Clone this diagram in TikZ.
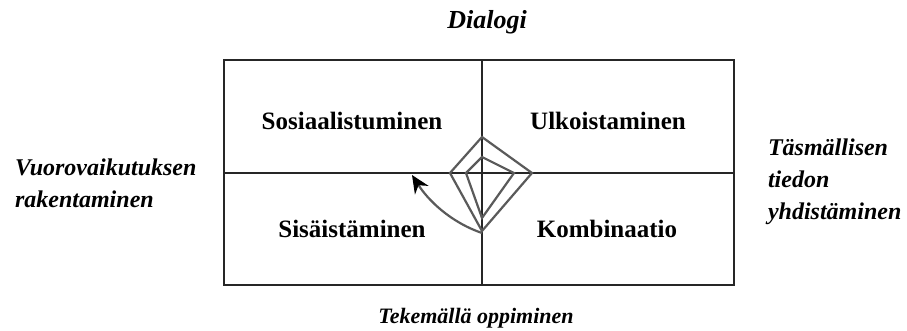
\documentclass[tikz,border=0pt]{standalone}
\usepackage{fontspec}
\setmainfont{Liberation Serif}
\usetikzlibrary{arrows.meta, positioning, calc}
\definecolor{diamondgray}{RGB}{90,90,90}

\begin{document}
\begin{tikzpicture}[x=0.5pt, y=-0.5pt,
    quad/.style={font=\bfseries\fontsize{12.5}{14}\selectfont},
    side/.style={font=\bfseries\itshape\fontsize{12}{16}\selectfont, align=left},
    frame/.style={line width=1.4pt, black!85},
    spiral/.style={diamondgray, line width=1.1pt}]
  \useasboundingbox (0,0) rectangle (907,331);
  % Frame and axes
  \coordinate (tl) at (224,60);
  \coordinate (br) at (734,285);
  \coordinate (top) at (482,60);
  \coordinate (bot) at (482,285);
  \coordinate (lft) at (224,173);
  \coordinate (rgt) at (734,173);
  \draw[frame] (tl) rectangle (br);
  \draw[frame] (top) -- (bot);
  \draw[frame] (lft) -- (rgt);
  % Quadrants
  \node[quad] (sos) at (352,121) {Sosiaalistuminen};
  \node[quad] (ulk) at (608,121) {Ulkoistaminen};
  \node[quad] (sis) at (352,229) {Sisäistäminen};
  \node[quad] (kom) at (607,229) {Kombinaatio};
  % Outer labels
  \node[side, font=\bfseries\itshape\fontsize{13}{16}\selectfont] (dia) at (487,22) {Dialogi};
  \node[side, font=\bfseries\itshape\fontsize{11}{16}\selectfont] (tek) at (476,318) {Tekemällä oppiminen};
  \node[side, anchor=west] (vuo) at (8,183) {Vuorovaikutuksen\\rakentaminen};
  \node[side, anchor=west] (tas) at (761,182) {Täsmällisen\\tiedon\\yhdistäminen};
  % Diamonds
  \draw[spiral] (482,137) -- (532,173) -- (482,231) -- (450,173) -- cycle;
  \draw[spiral] (482,157) -- (514,173) -- (482,218) -- (466,173) -- cycle;
  % Arrow back to the left
  \coordinate (start) at (482,233);
  \coordinate (tip) at (412,175);
  \draw[spiral, -{Stealth[length=9pt, width=8pt, black]}] (start) .. controls (450,222) and (428,200) .. (tip);
\end{tikzpicture}
\end{document}
